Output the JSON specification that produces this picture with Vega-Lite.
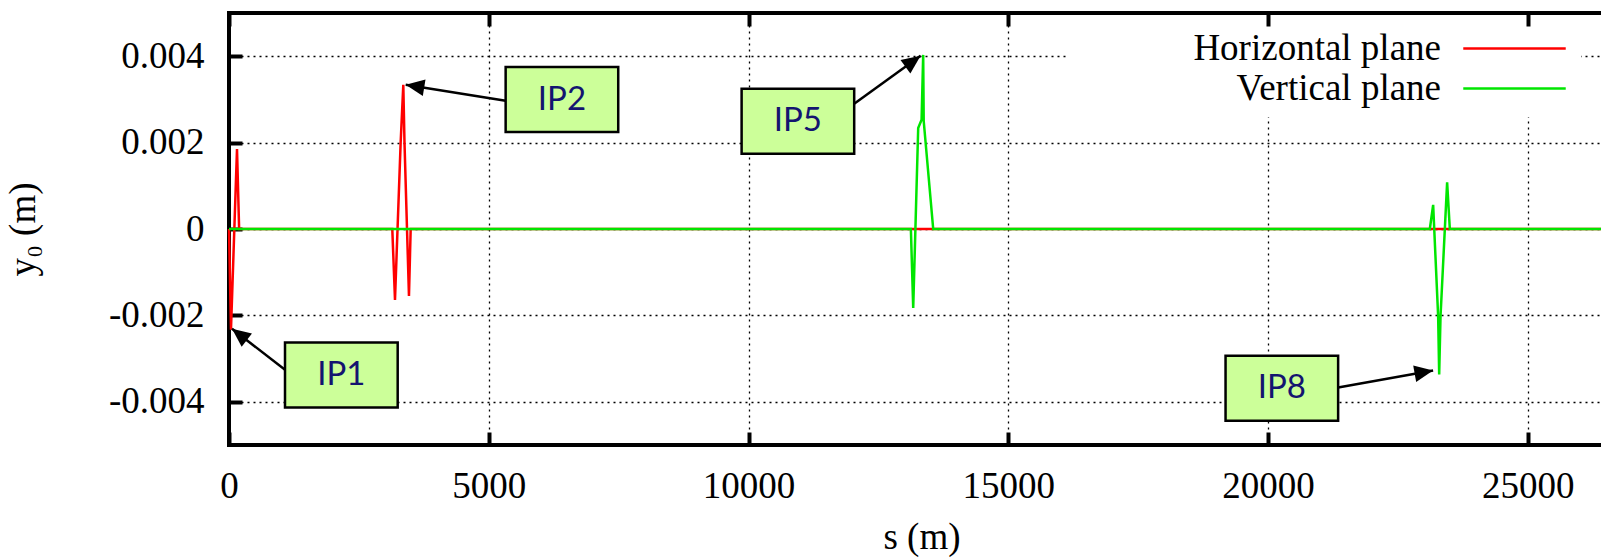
{
  "$schema": "https://vega.github.io/schema/vega-lite/v6.json",
  "width": 1385,
  "height": 432,
  "autosize": {"type": "none"},
  "padding": {"left": 229, "top": 13, "right": 0, "bottom": 112},
  "background": "white",
  "config": {
    "view": {"stroke": "black", "strokeWidth": 4},
    "axis": {
      "labelFont": "Liberation Serif", "titleFont": "Liberation Serif",
      "labelColor": "black", "titleColor": "black",
      "labelFontSize": 37, "titleFontSize": 37, "titleFontWeight": "normal",
      "tickColor": "black", "tickWidth": 4, "tickSize": -13,
      "domain": false, "gridColor": "black", "gridDash": [2, 4], "gridWidth": 1.3, "gridOpacity": 1,
      "labelFlush": false, "labelOverlap": false
    }
  },
  "datasets": {
    "orbit": [
      {"plane": "Horizontal plane", "s": 0, "y0": 0},
      {"plane": "Horizontal plane", "s": 38, "y0": -0.00233},
      {"plane": "Horizontal plane", "s": 154, "y0": 0.00185},
      {"plane": "Horizontal plane", "s": 195, "y0": 0},
      {"plane": "Horizontal plane", "s": 3143, "y0": 0},
      {"plane": "Horizontal plane", "s": 3195, "y0": -0.00164},
      {"plane": "Horizontal plane", "s": 3304, "y0": 0.002},
      {"plane": "Horizontal plane", "s": 3355, "y0": 0.00334},
      {"plane": "Horizontal plane", "s": 3378, "y0": 0.002},
      {"plane": "Horizontal plane", "s": 3464, "y0": -0.00155},
      {"plane": "Horizontal plane", "s": 3497, "y0": 0},
      {"plane": "Horizontal plane", "s": 26659, "y0": 0},
      {"plane": "Vertical plane", "s": 0, "y0": 0},
      {"plane": "Vertical plane", "s": 13125, "y0": 0},
      {"plane": "Vertical plane", "s": 13170, "y0": -0.00183},
      {"plane": "Vertical plane", "s": 13266, "y0": 0.00234},
      {"plane": "Vertical plane", "s": 13331, "y0": 0.00253},
      {"plane": "Vertical plane", "s": 13362, "y0": 0.00403},
      {"plane": "Vertical plane", "s": 13372, "y0": 0.0025},
      {"plane": "Vertical plane", "s": 13555, "y0": 0},
      {"plane": "Vertical plane", "s": 23114, "y0": 0},
      {"plane": "Vertical plane", "s": 23178, "y0": 0.00056},
      {"plane": "Vertical plane", "s": 23274, "y0": -0.00202},
      {"plane": "Vertical plane", "s": 23294, "y0": -0.00337},
      {"plane": "Vertical plane", "s": 23320, "y0": -0.00202},
      {"plane": "Vertical plane", "s": 23447, "y0": 0.00108},
      {"plane": "Vertical plane", "s": 23499, "y0": 0},
      {"plane": "Vertical plane", "s": 26659, "y0": 0}
    ],
    "ann": [
      {"label": "IP1", "x1": 1078, "x2": 3247, "y1": -0.002626, "y2": -0.004131, "tailx": 1078, "taily": -0.003258, "tipx": 58, "tipy": -0.002309},
      {"label": "IP2", "x1": 5325, "x2": 7492, "y1": 0.003749, "y2": 0.002244, "tailx": 5325, "taily": 0.002969, "tipx": 3401, "tipy": 0.003339},
      {"label": "IP5", "x1": 9867, "x2": 12034, "y1": 0.003247, "y2": 0.001742, "tailx": 12034, "taily": 0.002899, "tipx": 13312, "tipy": 0.00401},
      {"label": "IP8", "x1": 19182, "x2": 21349, "y1": -0.002934, "y2": -0.004439, "tailx": 21349, "taily": -0.003668, "tipx": 23177, "tipy": -0.003274}
    ]
  },
  "resolve": {"axis": {"x": "independent", "y": "independent"}},
  "layer": [
    {
      "data": {"name": "orbit"},
      "mark": {"type": "line", "strokeWidth": 2.5},
      "encoding": {
        "x": {
          "field": "s", "type": "quantitative",
          "scale": {"domain": [0, 26659], "nice": false, "zero": false},
          "axis": {"orient": "bottom", "values": [0, 5000, 10000, 15000, 20000, 25000], "labelExpr": "'' + datum.value", "labelPadding": 36, "grid": true, "title": "s (m)", "titlePadding": 15}
        },
        "y": {
          "field": "y0", "type": "quantitative",
          "scale": {"domain": [-0.005, 0.005], "nice": false},
          "axis": {"orient": "left", "values": [-0.004, -0.002, 0, 0.002, 0.004], "labelExpr": "'' + datum.value", "labelPadding": 38, "grid": true, "title": "y₀ (m)", "titlePadding": 66}
        },
        "color": {
          "field": "plane", "type": "nominal",
          "scale": {"domain": ["Horizontal plane", "Vertical plane"], "range": ["#ff0000", "#00e600"]},
          "legend": {
            "orient": "none", "legendX": 840, "legendY": 7, "title": null,
            "symbolType": "M-5,0L5,0", "symbolSize": 420, "symbolStrokeWidth": 2.5,
            "symbolOffset": 417, "labelAlign": "right", "labelOffset": -92, "labelBaseline": "middle",
            "labelFont": "Liberation Serif", "labelFontSize": 37, "labelColor": "black", "labelLimit": 400,
            "rowPadding": 2, "padding": 10, "fillColor": "white", "zindex": 1
          }
        }
      }
    },
    {
      "data": {"name": "ann"},
      "mark": {"type": "rule", "strokeWidth": 2.5, "color": "black"},
      "encoding": {
        "x": {"field": "tailx", "type": "quantitative", "axis": null},
        "y": {"field": "taily", "type": "quantitative", "axis": null},
        "x2": {"field": "tipx"},
        "y2": {"field": "tipy"}
      }
    },
    {
      "data": {"name": "ann"},
      "transform": [
        {"calculate": "atan2((datum.tipx - datum.tailx) * 0.05196, (datum.tipy - datum.taily) * 43200) * 180 / PI", "as": "ang"}
      ],
      "mark": {"type": "point", "shape": "M0,0L-0.45,1L0.45,1Z", "filled": true, "color": "black", "size": 1400, "opacity": 1},
      "encoding": {
        "x": {"field": "tipx", "type": "quantitative", "axis": null},
        "y": {"field": "tipy", "type": "quantitative", "axis": null},
        "angle": {"field": "ang", "type": "quantitative", "scale": null}
      }
    },
    {
      "data": {"name": "ann"},
      "mark": {"type": "rect", "fill": "#ccff99", "stroke": "black", "strokeWidth": 2.5},
      "encoding": {
        "x": {"field": "x1", "type": "quantitative", "axis": {"orient": "top", "values": [0, 5000, 10000, 15000, 20000, 25000], "labels": false, "grid": false, "title": null, "zindex": 2}},
        "x2": {"field": "x2"},
        "y": {"field": "y1", "type": "quantitative", "axis": {"orient": "right", "values": [-0.004, -0.002, 0, 0.002, 0.004], "labels": false, "grid": false, "title": null, "zindex": 2}},
        "y2": {"field": "y2"}
      }
    },
    {
      "data": {"name": "ann"},
      "transform": [
        {"calculate": "(datum.x1 + datum.x2) / 2", "as": "cx"},
        {"calculate": "(datum.y1 + datum.y2) / 2", "as": "cy"}
      ],
      "mark": {"type": "text", "font": "Lato", "fontSize": 33, "color": "#141470", "align": "center", "baseline": "middle"},
      "encoding": {
        "x": {"field": "cx", "type": "quantitative", "axis": null},
        "y": {"field": "cy", "type": "quantitative", "axis": null},
        "text": {"field": "label"}
      }
    }
  ]
}
